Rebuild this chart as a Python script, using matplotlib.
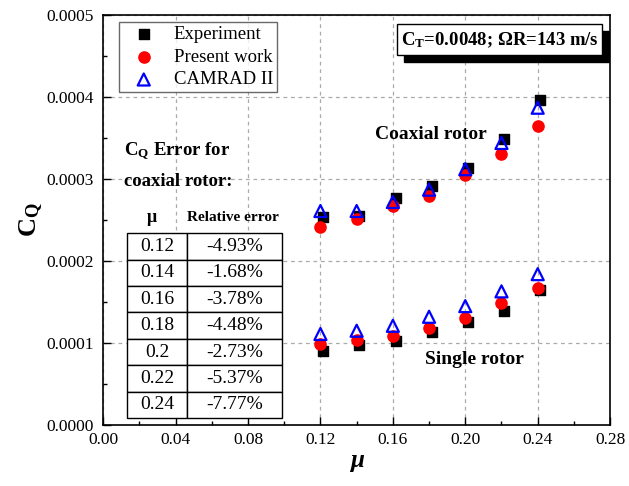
import matplotlib
matplotlib.use('Agg')
import matplotlib.pyplot as plt
from matplotlib.ticker import MultipleLocator, FormatStrFormatter
from matplotlib.patches import Rectangle

plt.rcParams['font.family'] = ['Liberation Serif', 'DejaVu Serif']
plt.rcParams['mathtext.default'] = 'regular'

# coaxial rotor
mu = [0.12, 0.14, 0.16, 0.18, 0.20, 0.22, 0.24]
mu_exp = [0.1215, 0.1415, 0.1615, 0.1815, 0.2015, 0.2215, 0.2415]
coax_exp = [2.54e-4, 2.55e-4, 2.77e-4, 2.92e-4, 3.13e-4, 3.49e-4, 3.96e-4]
coax_pw = [2.41e-4, 2.51e-4, 2.67e-4, 2.79e-4, 3.05e-4, 3.31e-4, 3.65e-4]
coax_cam = [2.61e-4, 2.61e-4, 2.72e-4, 2.87e-4, 3.12e-4, 3.44e-4, 3.87e-4]
# single rotor
single_exp = [0.90e-4, 0.97e-4, 1.02e-4, 1.14e-4, 1.26e-4, 1.39e-4, 1.65e-4]
single_pw = [0.99e-4, 1.04e-4, 1.085e-4, 1.18e-4, 1.30e-4, 1.49e-4, 1.675e-4]
single_cam = [1.11e-4, 1.15e-4, 1.21e-4, 1.32e-4, 1.45e-4, 1.63e-4, 1.84e-4]

tab_mu = ['0.12', '0.14', '0.16', '0.18', '0.2', '0.22', '0.24']
tab_err = ['-4.93%', '-1.68%', '-3.78%', '-4.48%', '-2.73%', '-5.37%', '-7.77%']

fig = plt.figure(figsize=(6.29, 4.86), dpi=100)
ax = fig.add_axes([0.164, 0.1255, 0.806, 0.8435])

ax.scatter(mu_exp, coax_exp, marker='s', s=55, c='black', zorder=3, label='Experiment')
ax.scatter(mu_exp, single_exp, marker='s', s=55, c='black', zorder=3)
ax.scatter(mu, coax_pw, marker='o', s=65, c='red', zorder=4, label='Present work')
ax.scatter(mu, single_pw, marker='o', s=65, c='red', zorder=4)
ax.scatter(mu, coax_cam, marker='^', s=75, facecolors='none', edgecolors='blue',
           linewidths=1.6, zorder=5, label='CAMRAD II')
ax.scatter(mu, single_cam, marker='^', s=75, facecolors='none', edgecolors='blue',
           linewidths=1.6, zorder=5)

ax.set_xlim(0, 0.28)
ax.set_ylim(0, 0.0005)
ax.xaxis.set_major_locator(MultipleLocator(0.04))
ax.xaxis.set_minor_locator(MultipleLocator(0.02))
ax.yaxis.set_major_locator(MultipleLocator(0.0001))
ax.yaxis.set_minor_locator(MultipleLocator(0.00005))
ax.xaxis.set_major_formatter(FormatStrFormatter('%.2f'))
ax.yaxis.set_major_formatter(FormatStrFormatter('%.4f'))
ax.tick_params(which='major', direction='in', length=6, width=1, labelsize=12.5)
ax.tick_params(axis='y', which='major', pad=7)
ax.tick_params(axis='x', which='major', pad=5)
ax.tick_params(which='minor', direction='in', length=3, width=1)
ax.grid(True, which='major', linestyle=(0, (3, 3)), color='#aaaaaa', linewidth=0.9)
for s in ax.spines.values():
    s.set_linewidth(1.2)

ax.set_xlabel(r'$\mu$', fontsize=18, fontweight='bold', fontstyle='italic', labelpad=2)
ax.set_ylabel('C$_Q$', fontsize=19, fontweight='bold', labelpad=1)

leg = ax.legend(loc='upper left', bbox_to_anchor=(0.032, 0.983), fontsize=13.5,
                frameon=True, fancybox=False, edgecolor='#444444',
                handletextpad=0.5, borderpad=0.2, labelspacing=0.3, handlelength=2.2,
                borderaxespad=0)
leg.get_frame().set_linewidth(1.0)

# parameter box with shadow
ax.add_patch(Rectangle((0.594, 0.885), 0.404, 0.076, transform=ax.transAxes,
                       fc='black', ec='black', zorder=6))
ax.add_patch(Rectangle((0.580, 0.902), 0.404, 0.076, transform=ax.transAxes,
                       fc='white', ec='black', lw=1.0, zorder=7))
ax.text(0.588, 0.939, 'C$_T$=0.0048; ΩR=143 m/s', transform=ax.transAxes,
        fontsize=13.5, fontweight='bold', va='center', ha='left', zorder=8)

ax.text(0.181, 0.000354, 'Coaxial rotor', fontsize=14, fontweight='bold', ha='center', va='center')
ax.text(0.205, 0.0000805, 'Single rotor', fontsize=14, fontweight='bold', ha='center', va='center')

ax.text(0.042, 0.668, 'C$_Q$ Error for', transform=ax.transAxes,
        fontsize=13.5, fontweight='bold', ha='left', va='center')
ax.text(0.042, 0.593, 'coaxial rotor:', transform=ax.transAxes,
        fontsize=13.5, fontweight='bold', ha='left', va='center')
ax.text(0.097, 0.507, 'μ', transform=ax.transAxes, fontsize=13, fontweight='bold',
        ha='center', va='center')
ax.text(0.256, 0.507, 'Relative error', transform=ax.transAxes, fontsize=11,
        fontweight='bold', ha='center', va='center')

tbl = ax.table(cellText=[[a, b] for a, b in zip(tab_mu, tab_err)],
               colWidths=[0.387, 0.613], cellLoc='center',
               bbox=[0.047, 0.017, 0.306, 0.451])
tbl.auto_set_font_size(False)
tbl.set_fontsize(14)
for cell in tbl.get_celld().values():
    cell.set_linewidth(1.0)
    cell.set_facecolor('white')
tbl.set_zorder(6)

fig.savefig('out.png', dpi=100)
